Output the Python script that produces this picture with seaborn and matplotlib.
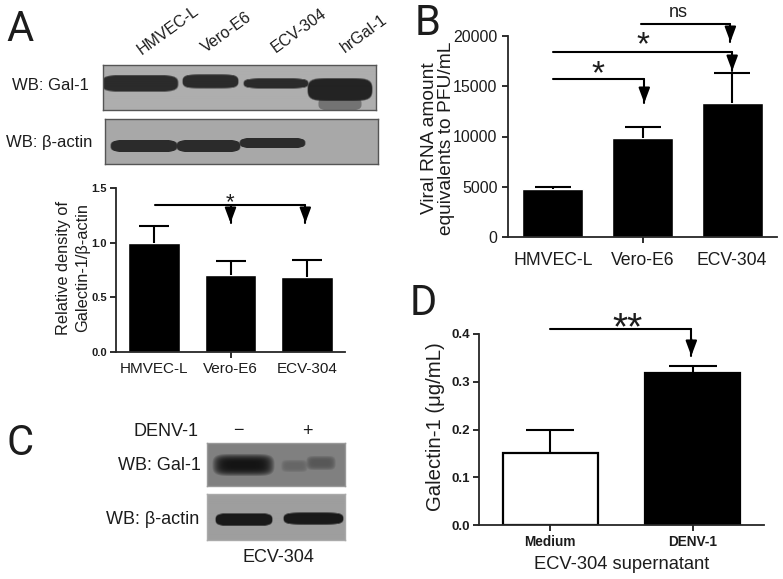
import numpy as np
import matplotlib
matplotlib.use("Agg")
import matplotlib.pyplot as plt
import seaborn as sns

W, H = 783, 579

# panel A
cells_a = ["HMVEC-L", "Vero-E6", "ECV-304"]
density = [1.0, 0.70, 0.69]
density_err = [0.15, 0.13, 0.15]

# panel B
cells_b = ["HMVEC-L", "Vero-E6", "ECV-304"]
viral_rna = [4800, 9900, 13300]
viral_rna_err = [150, 1000, 3000]

# panel D
groups_d = ["Medium", "DENV-1"]
galectin = [0.15, 0.318]
galectin_err = [0.05, 0.014]

lanes_a = ["HMVEC-L", "Vero-E6", "ECV-304", "hrGal-1"]

sns.set_theme(style="ticks")
plt.rcParams["font.family"] = ["Liberation Sans", "DejaVu Sans"]
plt.rcParams["text.color"] = "#1c1c1c"
plt.rcParams["axes.labelcolor"] = "#1c1c1c"

fig = plt.figure(figsize=(W / 100, H / 100), dpi=100)


def box(x0, y0, x1, y1):
    return fig.add_axes([x0 / W, 1 - y1 / H, (x1 - x0) / W, (y1 - y0) / H])


def label(x, y, s, size=12, **kw):
    kw.setdefault("ha", "center")
    kw.setdefault("va", "center")
    fig.text(x / W, 1 - y / H, s, fontsize=size, **kw)


def blot(x0, y0, x1, y1, bg, bands, edge="#555555", soft=0.25):
    # bands: x start, x end, y centre, height, darkness in picture pixels
    ax = box(x0, y0, x1, y1)
    xx, yy = np.meshgrid(np.arange(x0, x1) + 0.5, np.arange(y0, y1) + 0.5)
    img = np.full(xx.shape, bg, dtype=float)
    for a, b, yc, h, dark in bands:
        d = np.abs((xx - (a + b) / 2) / ((b - a) / 2)) ** 6 + np.abs((yy - yc) / (h / 2)) ** 3
        alpha = np.clip((1 - d) / soft, 0, 1)
        img = img * (1 - alpha) + dark * alpha
    ax.imshow(img, cmap="gray", vmin=0, vmax=1, aspect="auto", interpolation="bilinear")
    ax.set_xticks([])
    ax.set_yticks([])
    for s in ax.spines.values():
        s.set_color(edge)
        s.set_linewidth(1)
    return ax


def bars(ax, cats, vals, errs, ylim, yticks, ytick_fmt, width, cap, palette=None):
    if palette is None:
        sns.barplot(x=cats, y=vals, color="black", saturation=1, width=width, errorbar=None, ax=ax)
    else:
        sns.barplot(x=cats, y=vals, hue=cats, palette=palette, edgecolor="black", linewidth=1.6,
                    saturation=1, width=width, errorbar=None, legend=False, ax=ax)
    _, caps, _ = ax.errorbar(range(len(cats)), vals, yerr=[[0] * len(errs), errs], fmt="none", ecolor="black",
                             elinewidth=1.5, capsize=cap, capthick=1.5, clip_on=False)
    caps[0].set_visible(False)  # no lower cap on the bar top
    ax.set_xlim(-0.5, len(cats) - 0.5)
    ax.set_ylim(*ylim)
    ax.set_yticks(yticks)
    ax.set_yticklabels([ytick_fmt.format(t) for t in yticks])
    ax.patch.set_alpha(0)
    sns.despine(ax=ax)
    for s in ["left", "bottom"]:
        ax.spines[s].set_linewidth(1.3)
    ax.tick_params(width=1.3, length=4.5, colors="#1c1c1c")


def drop(ax, x, y, tip):
    ax.plot([x, x], [y, tip], color="black", lw=1.5, clip_on=False)
    ax.annotate("", xy=(x, tip), xytext=(x, tip + (y - tip) * 0.62),
                arrowprops=dict(arrowstyle="-|>,head_length=0.75,head_width=0.28", color="black", lw=1.5,
                                shrinkA=0, shrinkB=0), annotation_clip=False)


def sig(ax, x0, x1, y, tip):
    # horizontal bar from x0 to x1, then down to an arrow head at tip
    ax.plot([x0, x1], [y, y], color="black", lw=1.5, clip_on=False, solid_capstyle="round")
    drop(ax, x1, y, tip)


# A: westerns
blot(103, 65, 376, 110, 0.68,
     [(318, 362, 104, 13, 0.45), (101, 179, 84, 17, 0.17), (182, 239, 82, 14, 0.17), (243, 309, 84, 10, 0.17),
      (307, 373, 90, 23, 0.14)])
blot(105, 119, 378, 164, 0.66,
     [(110, 178, 146, 13, 0.17), (176, 241, 146, 13, 0.17), (239, 306, 143, 11, 0.17)])
for (x, y), s in zip([(144, 57), (208, 55), (278, 55), (347, 55)], lanes_a):
    label(x, y, s, size=11.5, rotation=36, ha="left", va="bottom", rotation_mode="anchor")
label(50, 85, "WB: Gal-1", size=12)
label(49, 143, "WB: β-actin", size=12)

# A: bars
ax_a = box(116, 188, 345, 352)
bars(ax_a, cells_a, density, density_err, (0, 1.5), [0, 0.5, 1.0, 1.5], "{:.1f}", 0.68, 10.5)
ax_a.tick_params(axis="x", labelsize=11, pad=3)
ax_a.tick_params(axis="y", labelsize=8, pad=2)
for t in ax_a.get_yticklabels():
    t.set_fontweight("bold")
ax_a.xaxis.get_major_ticks()[0].tick1line.set_visible(False)
ax_a.xaxis.get_major_ticks()[2].tick1line.set_visible(False)
ax_a.set_ylabel("Relative density of\nGalectin-1/β-actin", fontsize=11.8, linespacing=1.3)
ax_a.yaxis.set_label_coords((90 - 116) / 229, (352 - 268) / 164)
sig(ax_a, 0.01, 1.98, 1.344, 1.18)
drop(ax_a, 1.0, 1.344, 1.18)
ax_a.text(1.0, 1.37, "*", fontsize=16, ha="center", va="center", clip_on=False)

# B: bars
ax_b = box(508, 36, 777, 237)
bars(ax_b, cells_b, viral_rna, viral_rna_err, (0, 20000), [0, 5000, 10000, 15000, 20000], "{:d}", 0.68, 13)
ax_b.tick_params(axis="x", labelsize=12.7, pad=6)
ax_b.tick_params(axis="y", labelsize=11.5, pad=3)
ax_b.xaxis.get_major_ticks()[0].tick1line.set_visible(False)
ax_b.xaxis.get_major_ticks()[2].tick1line.set_visible(False)
ax_b.set_ylabel("Viral RNA amount\nequivalents to PFU/mL", fontsize=13.8, linespacing=1.0)
ax_b.yaxis.set_label_coords((455 - 508) / 269, (237 - 138) / 201)
sig(ax_b, 0.0, 1.02, 15721, 13333)
sig(ax_b, 0.0, 2.0, 18408, 16517)
sig(ax_b, 0.98, 1.98, 21194, 19403)
ax_b.text(0.5, 16100, "*", fontsize=24, ha="center", va="center", clip_on=False)
ax_b.text(1.0, 19000, "*", fontsize=24, ha="center", va="center", clip_on=False)
ax_b.text(1.4, 22300, "ns", fontsize=13, ha="center", va="center", clip_on=False)

# C: westerns
blot(207, 443, 345, 486, 0.5,
     [(212, 275, 465, 23, 0.08), (281, 308, 466, 13, 0.40), (306, 336, 463, 15, 0.34)],
     edge="#999999", soft=1.0)
blot(207, 494, 345, 540, 0.62, [(215, 273, 520, 13, 0.1), (283, 344, 519, 12, 0.1)], edge="#aaaaaa")
label(166, 432, "DENV-1", size=13)
label(238, 431, "−", size=13)
label(307, 431, "+", size=13)
label(159, 466, "WB: Gal-1", size=13)
label(153, 519, "WB: β-actin", size=13)
label(278, 557, "ECV-304", size=13)

# D: bars
ax_d = box(479, 334, 764, 525)
bars(ax_d, groups_d, galectin, galectin_err, (0, 0.4), [0, 0.1, 0.2, 0.3, 0.4], "{:.1f}", 0.67, 17,
     palette=["white", "black"])
ax_d.tick_params(axis="x", labelsize=9.8, pad=3)
ax_d.tick_params(axis="y", labelsize=9.5, pad=2)
for t in ax_d.get_yticklabels() + ax_d.get_xticklabels():
    t.set_fontweight("bold")
ax_d.set_ylabel("Galectin-1 (μg/mL)", fontsize=14.7)
ax_d.yaxis.set_label_coords((445 - 479) / 285, (525 - 427) / 191)
ax_d.set_xlabel("ECV-304 supernatant", fontsize=13.2, labelpad=5)
sig(ax_d, 0.0, 0.99, 0.4105, 0.354)
ax_d.text(0.54, 0.41, "**", fontsize=28, ha="center", va="center", clip_on=False)

# panel letters
for x, y, s in [(20, 41, "A"), (428, 35, "B"), (20, 455, "C"), (423, 315, "D")]:
    label(x, y, s, size=30, va="baseline", family="Roboto")

fig.savefig("out.png", dpi=100)
